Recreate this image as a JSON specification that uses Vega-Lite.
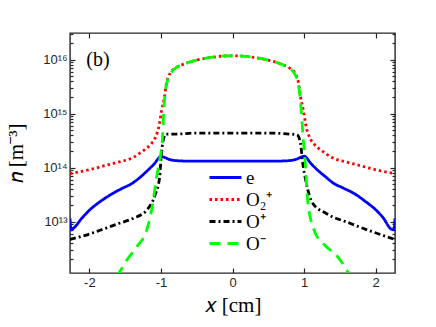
{
  "$schema": "https://vega.github.io/schema/vega-lite/v6.json",
  "width": 325,
  "height": 240,
  "autosize": {"type": "none"},
  "padding": {"left": 70, "top": 33, "right": 41, "bottom": 54},
  "background": "white",
  "config": {
    "view": {"stroke": "#262626", "strokeWidth": 1.4},
    "axis": {
      "domain": false,
      "grid": false,
      "tickColor": "#262626",
      "tickWidth": 1.2,
      "labelFont": "Liberation Sans",
      "labelFontSize": 13,
      "labelColor": "#262626",
      "titleFont": "Liberation Serif",
      "titleFontSize": 21,
      "titleFontWeight": "normal",
      "titleColor": "#000000",
      "labelOverlap": false,
      "labelFlush": false
    }
  },
  "datasets": {
    "curves": [
      {"s": "e", "x": -2.27, "n": 1.148e13},
      {"s": "e", "x": -2.255, "n": 7.079e12},
      {"s": "e", "x": -2.22, "n": 7.586e12},
      {"s": "e", "x": -2.1, "n": 1.175e13},
      {"s": "e", "x": -2.0, "n": 1.622e13},
      {"s": "e", "x": -1.85, "n": 2.344e13},
      {"s": "e", "x": -1.7, "n": 3.162e13},
      {"s": "e", "x": -1.55, "n": 4.074e13},
      {"s": "e", "x": -1.4, "n": 5.129e13},
      {"s": "e", "x": -1.3, "n": 6.457e13},
      {"s": "e", "x": -1.2, "n": 8.511e13},
      {"s": "e", "x": -1.1, "n": 1.148e14},
      {"s": "e", "x": -1.0, "n": 1.585e14},
      {"s": "e", "x": -0.95, "n": 1.549e14},
      {"s": "e", "x": -0.9, "n": 1.445e14},
      {"s": "e", "x": -0.8, "n": 1.349e14},
      {"s": "e", "x": -0.6, "n": 1.318e14},
      {"s": "e", "x": -0.3, "n": 1.318e14},
      {"s": "e", "x": 0.0, "n": 1.318e14},
      {"s": "e", "x": 0.3, "n": 1.318e14},
      {"s": "e", "x": 0.6, "n": 1.318e14},
      {"s": "e", "x": 0.8, "n": 1.349e14},
      {"s": "e", "x": 0.9, "n": 1.445e14},
      {"s": "e", "x": 0.95, "n": 1.549e14},
      {"s": "e", "x": 1.0, "n": 1.622e14},
      {"s": "e", "x": 1.1, "n": 1.175e14},
      {"s": "e", "x": 1.2, "n": 8.71e13},
      {"s": "e", "x": 1.3, "n": 6.761e13},
      {"s": "e", "x": 1.4, "n": 5.248e13},
      {"s": "e", "x": 1.55, "n": 4.169e13},
      {"s": "e", "x": 1.7, "n": 3.311e13},
      {"s": "e", "x": 1.85, "n": 2.399e13},
      {"s": "e", "x": 2.0, "n": 1.66e13},
      {"s": "e", "x": 2.1, "n": 1.202e13},
      {"s": "e", "x": 2.22, "n": 7.244e12},
      {"s": "e", "x": 2.255, "n": 7.079e12},
      {"s": "e", "x": 2.27, "n": 1.148e13},

      {"s": "O₂⁺", "x": -2.27, "n": 7.762e13},
      {"s": "O₂⁺", "x": -2.0, "n": 9.12e13},
      {"s": "O₂⁺", "x": -1.8, "n": 1.072e14},
      {"s": "O₂⁺", "x": -1.6, "n": 1.259e14},
      {"s": "O₂⁺", "x": -1.4, "n": 1.514e14},
      {"s": "O₂⁺", "x": -1.25, "n": 2.042e14},
      {"s": "O₂⁺", "x": -1.15, "n": 2.63e14},
      {"s": "O₂⁺", "x": -1.08, "n": 3.548e14},
      {"s": "O₂⁺", "x": -1.03, "n": 5.623e14},
      {"s": "O₂⁺", "x": -0.99, "n": 1.148e15},
      {"s": "O₂⁺", "x": -0.95, "n": 2.042e15},
      {"s": "O₂⁺", "x": -0.92, "n": 3.802e15},
      {"s": "O₂⁺", "x": -0.87, "n": 5.623e15},
      {"s": "O₂⁺", "x": -0.8, "n": 6.918e15},
      {"s": "O₂⁺", "x": -0.69, "n": 8.128e15},
      {"s": "O₂⁺", "x": -0.5, "n": 9.772e15},
      {"s": "O₂⁺", "x": -0.3, "n": 1.096e16},
      {"s": "O₂⁺", "x": 0.0, "n": 1.175e16},
      {"s": "O₂⁺", "x": 0.3, "n": 1.096e16},
      {"s": "O₂⁺", "x": 0.5, "n": 9.772e15},
      {"s": "O₂⁺", "x": 0.69, "n": 8.128e15},
      {"s": "O₂⁺", "x": 0.8, "n": 6.918e15},
      {"s": "O₂⁺", "x": 0.87, "n": 5.623e15},
      {"s": "O₂⁺", "x": 0.92, "n": 3.802e15},
      {"s": "O₂⁺", "x": 0.95, "n": 2.042e15},
      {"s": "O₂⁺", "x": 0.99, "n": 1.148e15},
      {"s": "O₂⁺", "x": 1.03, "n": 5.623e14},
      {"s": "O₂⁺", "x": 1.08, "n": 3.548e14},
      {"s": "O₂⁺", "x": 1.15, "n": 2.63e14},
      {"s": "O₂⁺", "x": 1.25, "n": 2.042e14},
      {"s": "O₂⁺", "x": 1.4, "n": 1.514e14},
      {"s": "O₂⁺", "x": 1.6, "n": 1.259e14},
      {"s": "O₂⁺", "x": 1.8, "n": 1.072e14},
      {"s": "O₂⁺", "x": 2.0, "n": 9.12e13},
      {"s": "O₂⁺", "x": 2.27, "n": 7.762e13},

      {"s": "O⁺", "x": -2.27, "n": 4.677e12},
      {"s": "O⁺", "x": -2.0, "n": 5.888e12},
      {"s": "O⁺", "x": -1.85, "n": 6.918e12},
      {"s": "O⁺", "x": -1.6, "n": 9.12e12},
      {"s": "O⁺", "x": -1.39, "n": 1.148e13},
      {"s": "O⁺", "x": -1.2, "n": 1.622e13},
      {"s": "O⁺", "x": -1.08, "n": 3.162e13},
      {"s": "O⁺", "x": -1.02, "n": 6.31e13},
      {"s": "O⁺", "x": -0.99, "n": 1.995e14},
      {"s": "O⁺", "x": -0.96, "n": 3.548e14},
      {"s": "O⁺", "x": -0.93, "n": 4.169e14},
      {"s": "O⁺", "x": -0.8, "n": 4.169e14},
      {"s": "O⁺", "x": -0.5, "n": 4.365e14},
      {"s": "O⁺", "x": -0.2, "n": 4.365e14},
      {"s": "O⁺", "x": 0.2, "n": 4.365e14},
      {"s": "O⁺", "x": 0.5, "n": 4.365e14},
      {"s": "O⁺", "x": 0.8, "n": 4.169e14},
      {"s": "O⁺", "x": 0.9, "n": 4.074e14},
      {"s": "O⁺", "x": 0.95, "n": 2.818e14},
      {"s": "O⁺", "x": 0.98, "n": 1.259e14},
      {"s": "O⁺", "x": 1.03, "n": 5.248e13},
      {"s": "O⁺", "x": 1.12, "n": 2.188e13},
      {"s": "O⁺", "x": 1.31, "n": 1.413e13},
      {"s": "O⁺", "x": 1.64, "n": 9.333e12},
      {"s": "O⁺", "x": 1.96, "n": 6.457e12},
      {"s": "O⁺", "x": 2.27, "n": 4.677e12},

      {"s": "O⁻", "x": -1.75, "n": 5.0e11},
      {"s": "O⁻", "x": -1.585, "n": 1.122e12},
      {"s": "O⁻", "x": -1.48, "n": 1.905e12},
      {"s": "O⁻", "x": -1.34, "n": 3.388e12},
      {"s": "O⁻", "x": -1.2, "n": 6.918e12},
      {"s": "O⁻", "x": -1.13, "n": 1.622e13},
      {"s": "O⁻", "x": -1.06, "n": 6.761e13},
      {"s": "O⁻", "x": -1.01, "n": 1.585e14},
      {"s": "O⁻", "x": -0.98, "n": 3.162e14},
      {"s": "O⁻", "x": -0.96, "n": 1.148e15},
      {"s": "O⁻", "x": -0.92, "n": 3.548e15},
      {"s": "O⁻", "x": -0.85, "n": 5.888e15},
      {"s": "O⁻", "x": -0.8, "n": 6.918e15},
      {"s": "O⁻", "x": -0.69, "n": 8.128e15},
      {"s": "O⁻", "x": -0.5, "n": 9.772e15},
      {"s": "O⁻", "x": -0.3, "n": 1.096e16},
      {"s": "O⁻", "x": 0.0, "n": 1.175e16},
      {"s": "O⁻", "x": 0.3, "n": 1.096e16},
      {"s": "O⁻", "x": 0.5, "n": 9.772e15},
      {"s": "O⁻", "x": 0.69, "n": 8.128e15},
      {"s": "O⁻", "x": 0.8, "n": 6.918e15},
      {"s": "O⁻", "x": 0.85, "n": 5.888e15},
      {"s": "O⁻", "x": 0.92, "n": 3.548e15},
      {"s": "O⁻", "x": 0.96, "n": 1.148e15},
      {"s": "O⁻", "x": 0.99, "n": 3.162e14},
      {"s": "O⁻", "x": 1.01, "n": 1.585e14},
      {"s": "O⁻", "x": 1.05, "n": 2.455e13},
      {"s": "O⁻", "x": 1.15, "n": 6.457e12},
      {"s": "O⁻", "x": 1.3, "n": 3.548e12},
      {"s": "O⁻", "x": 1.45, "n": 2.399e12},
      {"s": "O⁻", "x": 1.61, "n": 1.175e12},
      {"s": "O⁻", "x": 1.75, "n": 5.0e11}
    ],
    "label": [{"x": -1.88, "n": 1.0e16, "t": "(b)"}]
  },
  "layer": [
    {
      "data": {"name": "curves"},
      "mark": {"type": "line", "interpolate": "monotone", "clip": true, "strokeWidth": 2.8},
      "encoding": {
        "x": {
          "field": "x", "type": "quantitative",
          "scale": {"domain": [-2.27, 2.27], "nice": false, "zero": false},
          "axis": {
            "orient": "bottom",
            "values": [-2, -1, 0, 1, 2],
            "tickSize": -5,
            "labelPadding": 8,
            "labelExpr": "'' + datum.value",
            "title": "𝑥 [cm]",
            "titlePadding": 5
          }
        },
        "y": {
          "field": "n", "type": "quantitative",
          "scale": {"type": "log", "domain": [1.12e12, 3.1e16], "nice": false},
          "axis": {
            "orient": "left",
            "tickCount": 10,
            "tickSize": {"condition": {"test": "abs(log(datum.value)/LN10 - round(log(datum.value)/LN10)) < 0.001", "value": -5}, "value": -3},
            "labelPadding": 8,
            "labelExpr": "(abs(log(datum.value)/LN10 - round(log(datum.value)/LN10)) < 0.001) ? (round(log(datum.value)/LN10) == 13 ? '10¹³' : round(log(datum.value)/LN10) == 14 ? '10¹⁴' : round(log(datum.value)/LN10) == 15 ? '10¹⁵' : round(log(datum.value)/LN10) == 16 ? '10¹⁶' : '') : ''",
            "title": "𝑛 [m⁻³]",
            "titlePadding": 16
          }
        },
        "color": {
          "field": "s", "type": "nominal",
          "scale": {"domain": ["e", "O₂⁺", "O⁺", "O⁻"], "range": ["#0000ff", "#ff0000", "#000000", "#00ff00"]},
          "legend": {
            "orient": "none", "legendX": 144, "legendY": 133,
            "title": null, "padding": 0,
            "symbolType": "M-1.6,0H1.6", "symbolSize": 400, "symbolStrokeWidth": 3,
            "labelFont": "Liberation Serif", "labelFontSize": 19, "labelColor": "#000000",
            "labelOffset": 9, "rowPadding": 0
          }
        },
        "strokeDash": {
          "field": "s", "type": "nominal",
          "scale": {"domain": ["e", "O₂⁺", "O⁺", "O⁻"], "range": [[1, 0], [2.5, 3], [6, 3, 2, 3], [11, 7]]}
        }
      }
    },
    {
      "data": {"name": "label"},
      "mark": {"type": "text", "font": "Liberation Serif", "fontSize": 20, "align": "center", "baseline": "middle"},
      "encoding": {
        "x": {
          "field": "x", "type": "quantitative",
          "axis": {"orient": "top", "values": [-2, -1, 0, 1, 2], "tickSize": -5, "labels": false, "title": null}
        },
        "y": {
          "field": "n", "type": "quantitative",
          "axis": {
            "orient": "right", "tickCount": 10, "labels": false, "title": null,
            "tickSize": {"condition": {"test": "abs(log(datum.value)/LN10 - round(log(datum.value)/LN10)) < 0.001", "value": -5}, "value": -3}
          }
        },
        "text": {"field": "t"}
      }
    }
  ],
  "resolve": {"axis": {"x": "independent", "y": "independent"}}
}
